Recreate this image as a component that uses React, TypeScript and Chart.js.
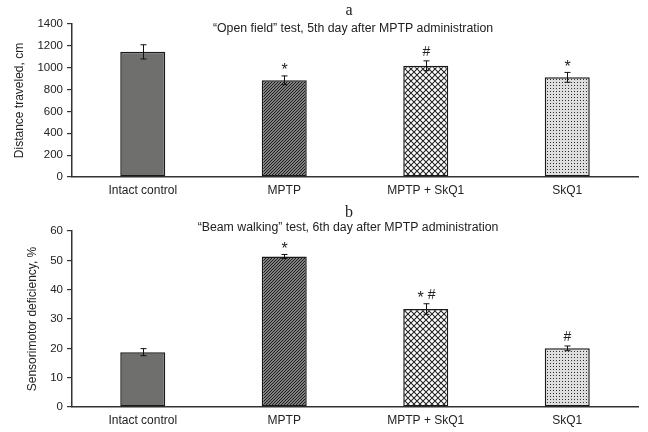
import React, { useEffect, useRef } from "react";
import { Chart, registerables } from "chart.js";

Chart.register(...registerables);

// ---- data ----
const categories = ["Intact control", "MPTP", "MPTP + SkQ1", "SkQ1"];

const distanceValues = [1145, 885, 1018, 912];
const distanceErrors = [65, 40, 45, 45];
const distanceMarks = ["", "*", "#", "*"];
const distanceTicks = [0, 200, 400, 600, 800, 1000, 1200, 1400];

const deficiencyValues = [18.7, 51.3, 33.4, 20.0];
const deficiencyErrors = [1.2, 0.7, 1.8, 0.8];
const deficiencyMarks = ["", "*", "* #", "#"];
const deficiencyTicks = [0, 10, 20, 30, 40, 50, 60];

const letterA = "a";
const titleA = "\u201COpen field\u201D test, 5th day after MPTP administration";
const axisTitleA = "Distance traveled, cm";
const letterB = "b";
const titleB = "\u201CBeam walking\u201D test, 6th day after MPTP administration";
const axisTitleB = "Sensorimotor deficiency, %";

const SANS = "'Liberation Sans', Arial, Helvetica, sans-serif";
const SERIF = "'Liberation Serif', 'Times New Roman', serif";
const INK = "#222222";

function makePatterns(): any[] {
  const mk = (s: number) => {
    const c = document.createElement("canvas");
    c.width = s;
    c.height = s;
    return [c, c.getContext("2d")!] as const;
  };
  // diagonal hatch
  const [c1, x1] = mk(3);
  x1.fillStyle = "#adadad";
  x1.fillRect(0, 0, 3, 3);
  x1.strokeStyle = "#181818";
  x1.lineWidth = 1.15;
  x1.beginPath();
  x1.moveTo(-1, 4);
  x1.lineTo(4, -1);
  x1.moveTo(-1, 1);
  x1.lineTo(1, -1);
  x1.moveTo(2, 4);
  x1.lineTo(4, 2);
  x1.stroke();
  // crosshatch
  const [c2, x2] = mk(6);
  x2.fillStyle = "#ffffff";
  x2.fillRect(0, 0, 6, 6);
  x2.strokeStyle = "#222222";
  x2.lineWidth = 1.05;
  x2.beginPath();
  x2.moveTo(-1, 7);
  x2.lineTo(7, -1);
  x2.moveTo(-1, -1);
  x2.lineTo(7, 7);
  x2.stroke();
  // dots
  const [c3, x3] = mk(3);
  x3.fillStyle = "#dedede";
  x3.fillRect(0, 0, 3, 3);
  x3.fillStyle = "#2e2e2e";
  x3.fillRect(1, 1, 1, 1);
  const p = (c: HTMLCanvasElement) => x1.createPattern(c, "repeat");
  return ["#6f706e", p(c1), p(c2), p(c3)];
}

const decorPlugin = {
  id: "decor",
  afterDatasetsDraw(chart: any, _args: any, opts: any) {
    const ctx = chart.ctx as CanvasRenderingContext2D;
    const meta = chart.getDatasetMeta(0);
    const ys = chart.scales.y;
    ctx.save();
    ctx.strokeStyle = "#111";
    ctx.lineWidth = 1;
    (opts.values as number[]).forEach((v, i) => {
      const x = Math.round(meta.data[i].x) + 0.5;
      const yt = ys.getPixelForValue(v + opts.errors[i]);
      const yb = ys.getPixelForValue(v - opts.errors[i]);
      ctx.beginPath();
      ctx.moveTo(x, yt);
      ctx.lineTo(x, yb);
      ctx.moveTo(x - 3, yt);
      ctx.lineTo(x + 3, yt);
      ctx.moveTo(x - 3, yb);
      ctx.lineTo(x + 3, yb);
      ctx.stroke();
      const mark: string = opts.marks[i];
      if (mark) {
        const tokens = mark.split(" ");
        ctx.fillStyle = INK;
        ctx.textBaseline = "alphabetic";
        ctx.textAlign = "left";
        const gap = 4;
        const fontFor = (t: string) => (t === "*" ? `16px ${SANS}` : `14px ${SANS}`);
        const widths = tokens.map((t) => {
          ctx.font = fontFor(t);
          return ctx.measureText(t).width;
        });
        const total = widths.reduce((a, b) => a + b, 0) + gap * (tokens.length - 1);
        let cx = x - total / 2;
        tokens.forEach((t, k) => {
          ctx.font = fontFor(t);
          const base = t === "*" ? yt - 0.5 : yt - 5;
          ctx.fillText(t, cx, base);
          cx += widths[k] + gap;
        });
      }
    });
    ctx.textAlign = "center";
    ctx.textBaseline = "middle";
    ctx.fillStyle = INK;
    ctx.font = `16px ${SERIF}`;
    ctx.fillText(opts.letter, opts.letterX, opts.letterY);
    ctx.font = `12.3px ${SANS}`;
    ctx.fillText(opts.title, opts.titleX, opts.titleY);
    ctx.restore();
  },
};

function makeChart(
  canvas: HTMLCanvasElement,
  values: number[],
  errors: number[],
  marks: string[],
  ticks: number[],
  axisTitle: string,
  letter: string,
  title: string,
  layout: any
) {
  return new Chart(canvas, {
    type: "bar",
    data: {
      labels: categories,
      datasets: [
        {
          data: values,
          backgroundColor: makePatterns(),
          borderColor: "#1a1a1a",
          borderWidth: 1.5,
          borderSkipped: false,
          categoryPercentage: 1,
          barPercentage: 0.318,
        },
      ],
    },
    options: {
      animation: false,
      responsive: false,
      devicePixelRatio: 1,
      layout: { padding: { top: layout.top, right: 10, left: 0, bottom: 0 } },
      plugins: {
        legend: { display: false },
        tooltip: { enabled: false },
        decor: {
          values,
          errors,
          marks,
          letter,
          title,
          letterX: 349,
          letterY: layout.letterY,
          titleX: layout.titleX,
          titleY: layout.titleY,
        },
      } as any,
      scales: {
        x: {
          grid: { display: false, drawTicks: false, tickLength: 0 },
          border: { display: true, color: "#333", width: 1.5 },
          ticks: { color: INK, font: { family: SANS, size: 12 }, padding: 6, maxRotation: 0 },
          afterFit: (s: any) => {
            s.height = layout.xHeight;
          },
        },
        y: {
          min: ticks[0],
          max: ticks[ticks.length - 1],
          afterBuildTicks: (s: any) => {
            s.ticks = ticks.map((v) => ({ value: v }));
          },
          grid: { drawOnChartArea: false, drawTicks: true, tickLength: 5, color: "#333", lineWidth: 1.2 },
          border: { display: true, color: "#333", width: 1.5 },
          ticks: {
            color: INK,
            font: { family: SANS, size: 11.5 },
            padding: 4,
            callback: (v: any) => String(v),
          },
          title: {
            display: true,
            text: axisTitle,
            color: INK,
            font: { family: SANS, size: 12 },
            padding: { top: layout.titlePad, bottom: 0 },
          },
          afterFit: (s: any) => {
            s.width = 72;
          },
        },
      },
    },
    plugins: [decorPlugin as any],
  });
}

export default function App() {
  const topRef = useRef<HTMLCanvasElement>(null);
  const botRef = useRef<HTMLCanvasElement>(null);

  useEffect(() => {
    const a = makeChart(
      topRef.current!,
      distanceValues,
      distanceErrors,
      distanceMarks,
      distanceTicks,
      axisTitleA,
      letterA,
      titleA,
      { top: 24, xHeight: 23, letterY: 11, titleX: 353, titleY: 29, titlePad: 12 }
    );
    const b = makeChart(
      botRef.current!,
      deficiencyValues,
      deficiencyErrors,
      deficiencyMarks,
      deficiencyTicks,
      axisTitleB,
      letterB,
      titleB,
      { top: 31, xHeight: 25, letterY: 13, titleX: 348, titleY: 28, titlePad: 25 }
    );
    return () => {
      a.destroy();
      b.destroy();
    };
  }, []);

  return (
    <div style={{ position: "fixed", left: 0, top: 0, width: 648, height: 432, background: "#fff" }}>
      <canvas ref={topRef} width={648} height={200} style={{ display: "block", width: 648, height: 200 }} />
      <canvas ref={botRef} width={648} height={232} style={{ display: "block", width: 648, height: 232 }} />
    </div>
  );
}
